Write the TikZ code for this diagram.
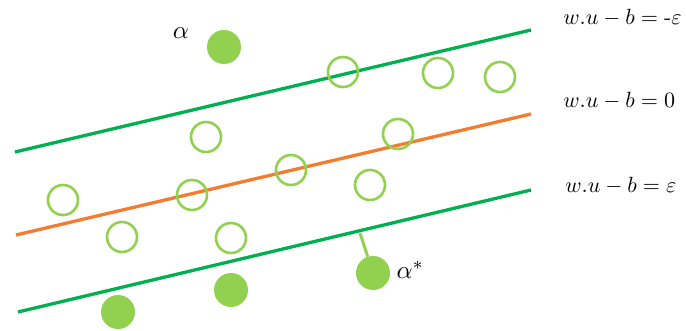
\documentclass[tikz,border=0pt]{standalone}
\usepackage{amsmath}
\definecolor{lgreen}{HTML}{00B050}
\definecolor{lorange}{HTML}{F47C30}
\definecolor{ptgreen}{HTML}{92D050}
\begin{document}
\begin{tikzpicture}[x=1pt,y=-1pt,
  hyper/.style={line width=3.3pt},
  openpt/.style={circle,draw=ptgreen,line width=2.6pt,minimum size=30pt,inner sep=0pt},
  fullpt/.style={circle,fill=ptgreen,minimum size=34pt,inner sep=0pt},
  eqlabel/.style={anchor=west,scale=2.2,inner sep=0pt},
  alabel/.style={scale=2.5,inner sep=0pt}]
\useasboundingbox (0,0) rectangle (686,331);
% lines
\coordinate (t1) at (15,152); \coordinate (t2) at (531,30);
\coordinate (m1) at (16,235); \coordinate (m2) at (531,114);
\coordinate (b1) at (18,312); \coordinate (b2) at (531,190);
\draw[hyper,lgreen] (t1) -- (t2);
\draw[hyper,lorange] (m1) -- (m2);
\draw[hyper,lgreen] (b1) -- (b2);
% open points
\foreach \n/\p in {o1/{(343,72)},o2/{(438,73)},o3/{(500,77)},o4/{(206,137)},o5/{(398,134)},o6/{(291,170)},o7/{(63,200)},o8/{(192,195)},o9/{(370,185)},o10/{(122,237)},o11/{(231,238)}}
  \node[openpt] (\n) at \p {};
% filled points
\node[fullpt] (f1) at (224,47) {};
\node[fullpt] (f2) at (118,312) {};
\node[fullpt] (f3) at (231,290) {};
\node[fullpt] (f4) at (373,273) {};
\coordinate (foot) at (360,233);
\draw[ptgreen,line width=3pt] (foot) -- (f4);
% labels
\node[alabel] (la) at (181,33) {$\alpha$};
\node[alabel,anchor=west] (las) at (396,270) {$\alpha^{*}$};
\node[eqlabel] (e1) at (563,18) {$w.u - b = \text{-}\varepsilon$};
\node[eqlabel] (e2) at (563,101) {$w.u - b = 0$};
\node[eqlabel] (e3) at (565,186) {$w.u - b = \varepsilon$};
\end{tikzpicture}
\end{document}
